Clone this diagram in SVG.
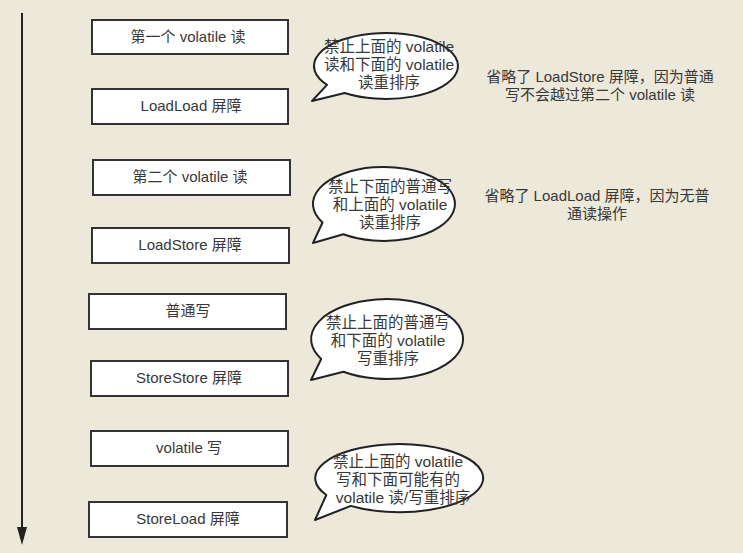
<svg xmlns="http://www.w3.org/2000/svg" width="743" height="553" viewBox="0 0 743 553">
<defs>
<style>
.box{fill:#fff;stroke:#333;stroke-width:2}
.bt{font-family:"Liberation Sans","Noto Sans CJK SC",sans-serif;font-size:15px;fill:#383838;text-anchor:middle}
.call{fill:#fff;stroke:#222;stroke-width:2;stroke-linejoin:round}
.ct{font-family:"Liberation Sans","Noto Sans CJK SC",sans-serif;font-size:15.5px;fill:#383838;text-anchor:middle}
.st{font-family:"Liberation Sans","Noto Sans CJK SC",sans-serif;font-size:15px;fill:#383838;text-anchor:middle}
</style>
</defs>
<rect width="743" height="553" fill="#ECE9DB"/>
<g id="connectors">
<line x1="22" y1="13" x2="22" y2="527" stroke="#222" stroke-width="2"/>
<path d="M17,527 L27,527 L22,545 Z" fill="#222"/>
</g>
<g id="n1"><rect class="box" x="92" y="20" width="196" height="34"/><text class="bt" x="188" y="42">第一个 volatile 读</text></g>
<g id="n2"><rect class="box" x="92" y="89" width="196" height="35"/><text class="bt" x="191" y="111">LoadLoad 屏障</text></g>
<g id="n3"><rect class="box" x="93" y="160" width="197" height="35"/><text class="bt" x="190" y="182">第二个 volatile 读</text></g>
<g id="n4"><rect class="box" x="92" y="228" width="197" height="35"/><text class="bt" x="190" y="250">LoadStore 屏障</text></g>
<g id="n5"><rect class="box" x="89" y="294" width="197" height="35"/><text class="bt" x="188" y="316">普通写</text></g>
<g id="n6"><rect class="box" x="91" y="361" width="197" height="35"/><text class="bt" x="189" y="383">StoreStore 屏障</text></g>
<g id="n7"><rect class="box" x="91" y="431" width="197" height="35"/><text class="bt" x="189" y="453">volatile 写</text></g>
<g id="n8"><rect class="box" x="89" y="502" width="198" height="35"/><text class="bt" x="188" y="524">StoreLoad 屏障</text></g>
<g id="c1">
<path class="call" d="M344.7,93 A72,33 0 1 0 327,84.9 L312,101 Z"/>
<text class="ct" x="389" y="52">禁止上面的 volatile</text>
<text class="ct" x="389" y="70">读和下面的 volatile</text>
<text class="ct" x="389" y="88">读重排序</text>
</g>
<g id="c2">
<path class="call" d="M343.3,234.3 A71,37 0 1 0 322.5,222.5 L313,243 Z"/>
<text class="ct" x="390" y="192">禁止下面的普通写</text>
<text class="ct" x="390" y="210">和上面的 volatile</text>
<text class="ct" x="390" y="228">读重排序</text>
</g>
<g id="c3">
<path class="call" d="M343.4,371.8 A76,40 0 1 0 321.2,359 L311,380 Z"/>
<text class="ct" x="388" y="328">禁止上面的普通写</text>
<text class="ct" x="388" y="346">和下面的 volatile</text>
<text class="ct" x="388" y="364">写重排序</text>
</g>
<g id="c4">
<path class="call" d="M350.8,505.9 A84,34 0 1 0 326.3,495 L315,520 Z"/>
<text class="ct" x="398" y="467">禁止上面的 volatile</text>
<text class="ct" x="398" y="485">写和下面可能有的</text>
<text class="ct" x="403" y="503">volatile 读/写重排序</text>
</g>
<g id="note1">
<text class="st" x="600" y="82">省略了 LoadStore 屏障，因为普通</text>
<text class="st" x="600" y="100">写不会越过第二个 volatile 读</text>
</g>
<g id="note2">
<text class="st" x="597" y="201">省略了 LoadLoad 屏障，因为无普</text>
<text class="st" x="597" y="219">通读操作</text>
</g>
</svg>
